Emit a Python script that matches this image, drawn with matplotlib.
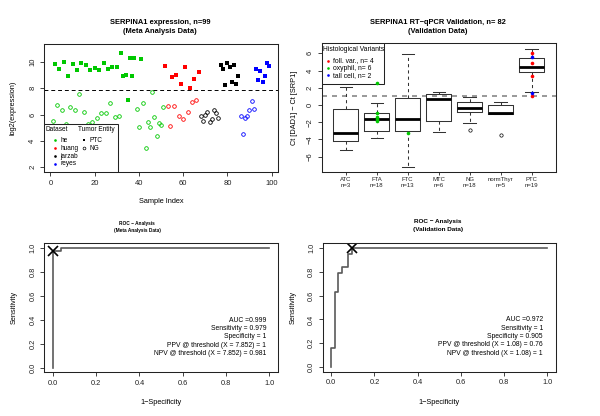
import matplotlib
matplotlib.use("Agg")
import matplotlib.pyplot as plt
from matplotlib.patches import Rectangle

plt.rcParams['font.family'] = ['Liberation Sans', 'DejaVu Sans']
plt.rcParams['axes.unicode_minus'] = True

# ---------------- data: meta analysis scatter ----------------
he_ptc_idx = [2, 4, 6, 8, 10, 12, 14, 16, 18, 20, 22, 24, 26, 28, 30, 32, 33, 34, 35, 36, 37, 38, 41]
he_ptc_val = [9.85, 9.46, 10.0, 8.92, 9.85, 9.38, 9.92, 9.74, 9.36, 9.51, 9.41, 9.92, 9.46, 9.64, 9.64,
              10.64, 8.92, 9.03, 7.13, 10.26, 8.92, 10.28, 10.21]
he_ng_idx = [1, 3, 5, 7, 9, 11, 13, 15, 17, 19, 21, 23, 25, 27, 29, 31, 39, 40, 42, 43, 44, 45, 46, 47,
             48, 49, 50, 51]
he_ng_val = [5.51, 6.69, 6.38, 5.31, 6.59, 6.36, 7.59, 6.18, 5.31, 5.41, 5.77, 6.10, 6.15, 6.90, 5.79,
             5.92, 6.46, 5.05, 6.87, 3.49, 5.41, 5.03, 7.72, 5.82, 4.36, 5.36, 5.21, 6.56]
huang_ptc_idx = [52, 55, 57, 59, 61, 63, 65, 67]
huang_ptc_val = [9.69, 8.87, 8.97, 8.36, 9.64, 8.00, 8.72, 9.23]
huang_ng_idx = [53, 54, 56, 58, 60, 62, 64, 66]
huang_ng_val = [6.64, 5.10, 6.64, 5.92, 5.64, 6.18, 6.92, 7.10]
jarzab_ptc_idx = [77, 78, 79, 80, 81, 82, 83, 84, 85]
jarzab_ptc_val = [9.79, 9.44, 8.23, 9.92, 9.64, 8.46, 9.74, 8.31, 8.90]
jarzab_ng_idx = [68, 69, 70, 71, 72, 73, 74, 75, 76]
jarzab_ng_val = [5.87, 5.49, 6.00, 6.18, 5.44, 5.67, 6.38, 6.13, 5.77]
reyes_ptc_idx = [93, 94, 95, 96, 97, 98, 99]
reyes_ptc_val = [9.49, 8.59, 9.31, 8.49, 8.90, 9.90, 9.67]
reyes_ng_idx = [86, 87, 88, 89, 90, 91, 92]
reyes_ng_val = [5.90, 4.51, 5.77, 5.92, 6.36, 7.05, 6.41]
meta_threshold = 7.852

datasets = ["he", "huang", "jarzab", "reyes"]
dataset_colors = ["#00C800", "#FF0000", "#000000", "#0000FF"]

# ---------------- data: validation boxplot ----------------
categories = ["ATC", "FTA", "FTC", "MTC", "NG", "normThyr", "PTC"]
cat_n = [3, 18, 13, 6, 18, 5, 19]
box_whislo = [-5.19, -3.84, -7.25, -3.18, -2.13, -1.08, 1.47]
box_q1 = [-4.22, -3.06, -3.02, -1.86, -0.85, -1.08, 3.80]
box_med = [-3.22, -1.67, -1.63, 0.74, -0.39, -0.98, 4.38]
box_q3 = [-0.50, -0.89, 0.85, 1.24, 0.31, -0.04, 5.50]
box_whishi = [2.13, 0.27, 5.93, 1.55, 0.97, 0.35, 6.51]
box_fliers = [[], [], [], [], [-2.95], [-3.49], []]
val_threshold = 1.08

foll_cat = ["PTC", "PTC", "PTC", "PTC"]
foll_val = [6.00, 4.88, 3.37, 1.05]
oxy_cat = ["FTA", "FTA", "FTA", "FTA", "FTA", "FTC"]
oxy_val = [2.60, -0.89, -1.43, -1.67, -1.90, -3.22]
tall_cat = ["PTC", "PTC"]
tall_val = [5.54, 1.43]

# ---------------- data: ROC curves ----------------
meta_fpr = [0.0, 0.0, 0.038, 0.038, 1.0]
meta_tpr = [0.0, 0.979, 0.979, 1.0, 1.0]
meta_cut = (0.0, 0.979)
meta_stats = ["AUC =0.999", "Sensitivity = 0.979", "Specificity = 1",
              "PPV @ threshold (X = 7.852) = 1", "NPV @ threshold (X = 7.852) = 0.981"]

val_fpr = [0.0, 0.0, 0.016, 0.016, 0.032, 0.032, 0.048, 0.048, 0.079, 0.079, 0.095, 0.095, 1.0]
val_tpr = [0.0, 0.158, 0.158, 0.632, 0.632, 0.789, 0.789, 0.842, 0.842, 0.947, 0.947, 1.0, 1.0]
val_cut = (0.095, 1.0)
val_stats = ["AUC =0.972", "Sensitivity = 1", "Specificity = 0.905",
             "PPV @ threshold (X = 1.08) = 0.76", "NPV @ threshold (X = 1.08) = 1"]

# ---------------- layout helpers ----------------
W, H = 600, 416
fig = plt.figure(figsize=(W / 100, H / 100), dpi=100)


def add_ax(l, t, r, b):
    return fig.add_axes([l / W, 1 - b / H, (r - l) / W, (b - t) / H])


def style_axis(ax, fs=5.5, tl=3.0, pad=2.5):
    for s in ax.spines.values():
        s.set_linewidth(0.75)
        s.set_color('#222222')
    ax.tick_params(axis='both', direction='out', length=tl, width=0.6, colors='#222222',
                   labelsize=fs, pad=pad)
    for lab in ax.get_yticklabels():
        lab.set_rotation(90)
        lab.set_va('center')


def set_labels(ax, xl, yl, xy, yx, fs=5.3):
    if xl:
        ax.set_xlabel(xl, fontsize=fs)
        ax.xaxis.label.set_va('center')
        ax.xaxis.set_label_coords(0.5, xy)
    if yl:
        ax.set_ylabel(yl, fontsize=fs)
        ax.yaxis.label.set_va('center')
        ax.yaxis.set_label_coords(yx, 0.5)


def title2(x, y1, y2, l1, l2, fs):
    fig.text(x / W, 1 - y1 / H, l1, ha='center', va='center', fontsize=fs, fontweight='bold')
    fig.text(x / W, 1 - y2 / H, l2, ha='center', va='center', fontsize=fs, fontweight='bold')


# ================= Panel 1: scatter =================
ax1 = add_ax(44, 44, 278, 172)
groups = [
    (he_ptc_idx, he_ptc_val, he_ng_idx, he_ng_val),
    (huang_ptc_idx, huang_ptc_val, huang_ng_idx, huang_ng_val),
    (jarzab_ptc_idx, jarzab_ptc_val, jarzab_ng_idx, jarzab_ng_val),
    (reyes_ptc_idx, reyes_ptc_val, reyes_ng_idx, reyes_ng_val),
]
for (pi, pv, ni, nv), col in zip(groups, dataset_colors):
    ax1.plot(pi, pv, linestyle='none', marker='s', markersize=2.4, color=col, markeredgewidth=0)
    ax1.plot(ni, nv, linestyle='none', marker='o', markersize=2.6, markerfacecolor='none',
             markeredgecolor=col, markeredgewidth=0.6)
ax1.axhline(meta_threshold, color='black', linestyle=(0, (4, 3)), linewidth=0.7)
ax1.set_xlim(-2.92, 102.92)
ax1.set_ylim(1.64, 11.36)
ax1.set_xticks([0, 20, 40, 60, 80, 100])
ax1.set_yticks([2, 4, 6, 8, 10])
style_axis(ax1)
set_labels(ax1, "Sample Index", "log2(expression)", -0.234, -0.131)
title2(160, 22.3, 31.7, "SERPINA1 expression, n=99", "(Meta Analysis Data)", 5.4)

# legend (manual, two columns)
def a1x(px):
    return (px - 44) / 234


def a1y(py):
    return (172 - py) / 128


ax1.add_patch(Rectangle((0, 0), a1x(117.7), a1y(124), transform=ax1.transAxes,
                        facecolor='white', edgecolor='#222222', linewidth=0.75, zorder=5))
lfs = 4.7
ax1.text(a1x(45.5), a1y(129.5), "Dataset", transform=ax1.transAxes, fontsize=lfs,
         ha='left', va='center', zorder=6)
ax1.text(a1x(78.3), a1y(129.5), "Tumor Entity", transform=ax1.transAxes, fontsize=lfs,
         ha='left', va='center', zorder=6)
row_y = [140, 148, 156, 163.7]
for name, col, ry in zip(datasets, dataset_colors, row_y):
    ax1.plot([a1x(55)], [a1y(ry)], transform=ax1.transAxes, marker='o', markersize=1.9,
             color=col, markeredgewidth=0, zorder=6, clip_on=False)
    ax1.text(a1x(60.5), a1y(ry), name, transform=ax1.transAxes, fontsize=lfs,
             ha='left', va='center', zorder=6)
ax1.plot([a1x(84.3)], [a1y(140)], transform=ax1.transAxes, marker='s', markersize=1.9,
         color='black', markeredgewidth=0, zorder=6, clip_on=False)
ax1.text(a1x(89), a1y(140), "PTC", transform=ax1.transAxes, fontsize=lfs, ha='left',
         va='center', zorder=6)
ax1.plot([a1x(84.3)], [a1y(148)], transform=ax1.transAxes, marker='o', markersize=2.0,
         markerfacecolor='none', markeredgecolor='black', markeredgewidth=0.5, zorder=6,
         clip_on=False)
ax1.text(a1x(89), a1y(148), "NG", transform=ax1.transAxes, fontsize=lfs, ha='left',
         va='center', zorder=6)

# ================= Panel 2: boxplot =================
ax2 = add_ax(321.7, 43.3, 555.7, 172.3)
pos = list(range(1, len(categories) + 1))
stats = []
for i in range(len(categories)):
    stats.append(dict(whislo=box_whislo[i], q1=box_q1[i], med=box_med[i], q3=box_q3[i],
                      whishi=box_whishi[i], fliers=box_fliers[i]))
edge = '#333333'
ax2.bxp(stats, positions=pos, widths=0.8, showfliers=True,
        boxprops=dict(color=edge, linewidth=0.75),
        whiskerprops=dict(color=edge, linewidth=0.75, linestyle=(0, (3, 3))),
        capprops=dict(color=edge, linewidth=0.75),
        medianprops=dict(color='black', linewidth=2.0),
        flierprops=dict(marker='o', markersize=2.4, markerfacecolor='none',
                        markeredgecolor='black', markeredgewidth=0.5),
        capwidths=0.4)
ax2.axhline(val_threshold, color='#888888', linestyle=(0, (3, 3)), linewidth=1.2, zorder=1)
cat_pos = {c: p for c, p in zip(categories, pos)}
for cats, vals, col in [(foll_cat, foll_val, '#FF0000'), (oxy_cat, oxy_val, '#00C800'),
                        (tall_cat, tall_val, '#0000FF')]:
    ax2.plot([cat_pos[c] for c in cats], vals, linestyle='none', marker='o', markersize=2.6,
             color=col, markeredgewidth=0, zorder=8)
ax2.set_xlim(0.22, 7.78)
ax2.set_ylim(-7.81, 7.16)
ax2.set_yticks([-6, -4, -2, 0, 2, 4, 6])
ax2.set_xticks(pos)
ax2.set_xticklabels([f"{c}\nn={n}" for c, n in zip(categories, cat_n)])
style_axis(ax2)
ax2.tick_params(axis='x', labelsize=4.3, length=2.2, pad=1.0)
set_labels(ax2, None, "Ct [DAD1] \u2212 Ct [SRP1]", None, -0.118)
title2(437.5, 22.3, 31.7, "SERPINA1 RT\u2212qPCR Validation, n= 82", "(Validation Data)", 5.4)


def a2x(px):
    return (px - 321.7) / 234


def a2y(py):
    return (172.3 - py) / 129


ax2.add_patch(Rectangle((0, a2y(84.3)), a2x(384.3), a2y(43.3) - a2y(84.3),
                        transform=ax2.transAxes, facecolor='white', edgecolor='#222222',
                        linewidth=0.75, zorder=5))
ax2.text(a2x(323.3), a2y(49.3), "Histological Variants", transform=ax2.transAxes,
         fontsize=4.85, ha='left', va='center', zorder=6)
leg2 = [("foll. var., n= 4", '#FF0000', 60.7), ("oxyphil, n= 6", '#00C800', 68.0),
        ("tall cell, n= 2", '#0000FF', 75.3)]
for lab, col, ry in leg2:
    ax2.plot([a2x(328.3)], [a2y(ry)], transform=ax2.transAxes, marker='o', markersize=1.9,
             color=col, markeredgewidth=0, zorder=6, clip_on=False)
    ax2.text(a2x(332.7), a2y(ry), lab, transform=ax2.transAxes, fontsize=4.85,
             ha='left', va='center', zorder=6)

# ================= Panels 3 & 4: ROC =================
def roc_panel(ax, fpr, tpr, cut, lines, text_x):
    ax.plot(fpr, tpr, color='#5a5a5a', linewidth=1.2, drawstyle='default')
    ax.plot([cut[0]], [cut[1]], marker='x', markersize=6.5, markeredgewidth=1.2, color='black')
    ax.set_xlim(-0.04, 1.04)
    ax.set_ylim(-0.04, 1.04)
    ticks = [0.0, 0.2, 0.4, 0.6, 0.8, 1.0]
    ax.set_xticks(ticks)
    ax.set_yticks(ticks)
    ax.set_xticklabels([f"{t:.1f}" for t in ticks])
    ax.set_yticklabels([f"{t:.1f}" for t in ticks])
    style_axis(ax, fs=5.3)
    ys = [0.396, 0.325, 0.260, 0.186, 0.114]
    for s, yv in zip(lines, ys):
        ax.text(text_x, yv, s, fontsize=4.9, ha='right', va='center')


ax3 = add_ax(44.3, 243.3, 277.7, 372.3)
roc_panel(ax3, meta_fpr, meta_tpr, meta_cut, meta_stats, 0.988)
set_labels(ax3, "1\u2212Specificity", "Sensitivity", -0.236, -0.13)
title2(137, 223.3, 230.3, "ROC \u2212 Analysis", "(Meta Analysis Data)", 3.4)

ax4 = add_ax(322.7, 243.3, 555.7, 371.7)
roc_panel(ax4, val_fpr, val_tpr, val_cut, val_stats, 0.981)
set_labels(ax4, "1\u2212Specificity", "Sensitivity", -0.241, -0.126)
title2(437.8, 221.7, 230.0, "ROC \u2212 Analysis", "(Validation Data)", 4.6)

fig.savefig("out.png", dpi=100, facecolor='white')
